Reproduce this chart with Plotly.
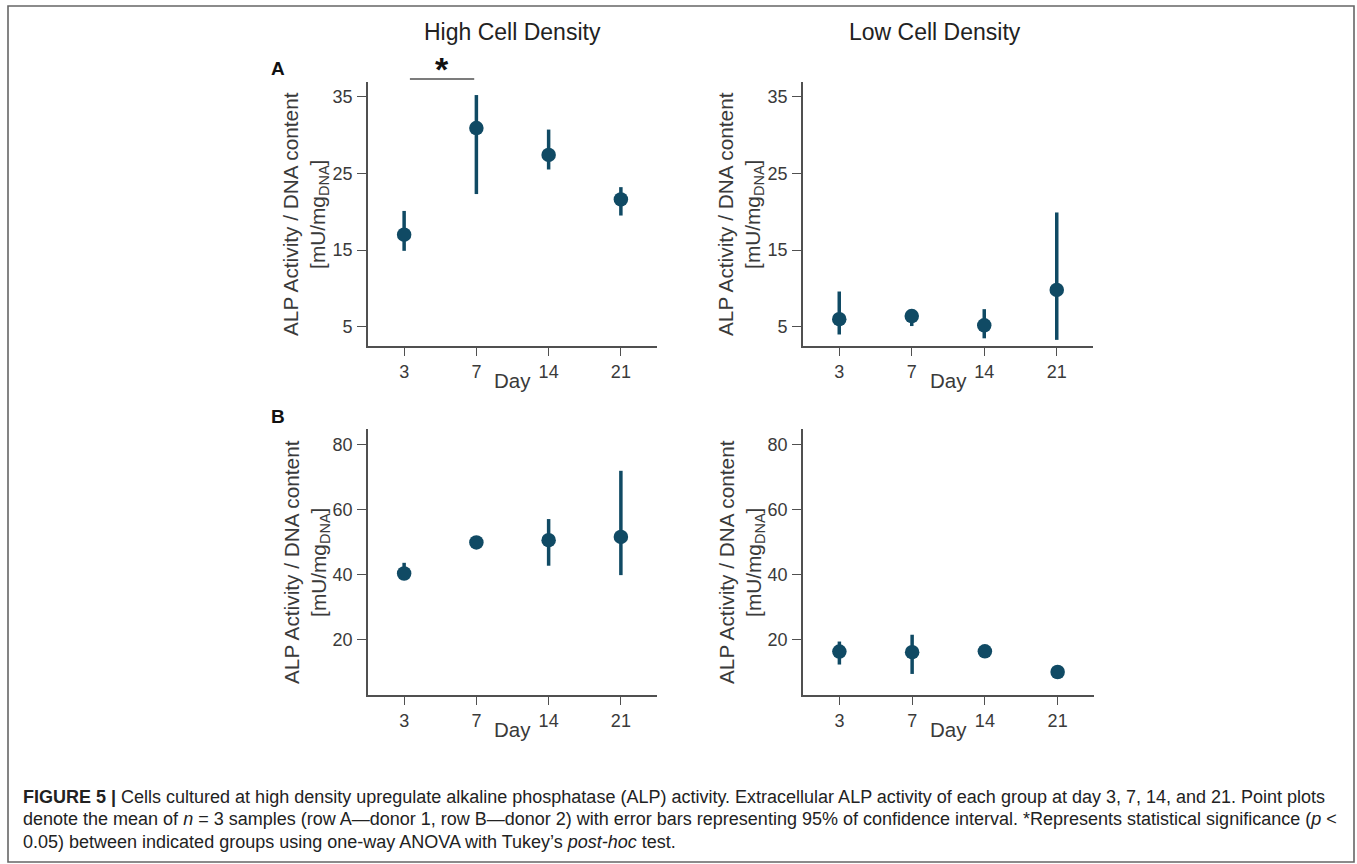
import plotly.graph_objects as go

# ---------------- data ----------------
days = ["3", "7", "14", "21"]

# Row A (donor 1)
a_high_mean = [17.0, 30.9, 27.4, 21.6]
a_high_low = [14.9, 22.3, 25.5, 19.5]
a_high_up = [20.1, 35.2, 30.7, 23.2]

a_low_mean = [6.0, 6.4, 5.2, 9.8]
a_low_low = [4.0, 5.1, 3.5, 3.3]
a_low_up = [9.6, 6.9, 7.3, 19.9]

# Row B (donor 2)
b_high_mean = [40.3, 49.9, 50.6, 51.6]
b_high_low = [38.8, 49.2, 42.7, 39.8]
b_high_up = [43.6, 50.7, 57.1, 72.0]

b_low_mean = [16.2, 16.0, 16.3, 9.9]
b_low_low = [12.2, 9.3, 15.6, 9.4]
b_low_up = [19.3, 21.4, 17.0, 10.4]

col_titles = ["High Cell Density", "Low Cell Density"]
row_labels = ["A", "B"]
a_yticks = [5, 15, 25, 35]
b_yticks = [20, 40, 60, 80]

caption_lines = [
    "<b>FIGURE 5 |</b> Cells cultured at high density upregulate alkaline phosphatase (ALP) activity. "
    "Extracellular ALP activity of each group at day 3, 7, 14, and 21. Point plots",
    "denote the mean of <i>n</i> = 3 samples (row A\u2014donor 1, row B\u2014donor 2) with error bars "
    "representing 95% of confidence interval. *Represents statistical significance (<i>p</i> <",
    "0.05) between indicated groups using one-way ANOVA with Tukey\u2019s <i>post-hoc</i> test.",
]

# ---------------- layout helpers ----------------
W, H = 1357, 864


def px(v):
    return v / W


def py(v):
    return 1 - v / H


COLOR = "#104a64"
AXC = "#505050"
TXT = "#3a3a3a"
FONT = "Liberation Sans, Arial, sans-serif"
CAPFONT = "Liberation Sans, Arial, sans-serif"

panels = [
    (a_high_mean, a_high_low, a_high_up, (368, 657), (82, 346), [2.5, 36.9], a_yticks),
    (a_low_mean, a_low_low, a_low_up, (803, 1093), (82, 346), [2.5, 36.9], a_yticks),
    (b_high_mean, b_high_low, b_high_up, (368, 657), (429, 695), [2.8, 84.9], b_yticks),
    (b_low_mean, b_low_low, b_low_up, (803, 1094), (429, 695), [2.8, 84.9], b_yticks),
]

fig = go.Figure()
layout = {}
annotations = []
shapes = []

for i, (m, lo, up, xd, yd, yr, yt) in enumerate(panels):
    n = "" if i == 0 else str(i + 1)
    fig.add_trace(
        go.Scatter(
            x=days,
            y=m,
            mode="markers",
            marker=dict(color=COLOR, size=14.5),
            error_y=dict(
                type="data",
                symmetric=False,
                array=[u - v for u, v in zip(up, m)],
                arrayminus=[v - l for v, l in zip(m, lo)],
                thickness=3.5,
                width=0,
                color=COLOR,
            ),
            xaxis="x" + n,
            yaxis="y" + n,
            showlegend=False,
            hoverinfo="skip",
        )
    )
    layout["xaxis" + n] = dict(
        domain=[px(xd[0]), px(xd[1])],
        anchor="y" + n,
        type="category",
        categoryorder="array",
        categoryarray=days,
        range=[-0.5, 3.5],
        showline=True,
        linecolor=AXC,
        linewidth=1.6,
        ticks="outside",
        ticklen=8,
        tickwidth=1.4,
        tickcolor=AXC,
        ticklabelstandoff=1,
        showgrid=False,
        zeroline=False,
        tickfont=dict(size=18, color=TXT, family=FONT),
    )
    layout["yaxis" + n] = dict(
        domain=[py(yd[1]), py(yd[0])],
        anchor="x" + n,
        range=yr,
        tickvals=yt,
        showline=True,
        linecolor=AXC,
        linewidth=1.6,
        ticks="outside",
        ticklen=9,
        tickwidth=1.4,
        tickcolor=AXC,
        ticklabelstandoff=1,
        showgrid=False,
        zeroline=False,
        tickfont=dict(size=18, color=TXT, family=FONT),
    )
    # y-axis title (two lines)
    annotations.append(
        dict(
            text="ALP Activity / DNA content<br>[mU/mg<sub>DNA</sub>]",
            xref="paper",
            yref="paper",
            x=px(xd[0] - 62),
            y=py((yd[0] + yd[1]) / 2),
            xanchor="center",
            yanchor="middle",
            textangle=-90,
            showarrow=False,
            font=dict(size=20.8, color=TXT, family=FONT),
        )
    )
    # x-axis title
    annotations.append(
        dict(
            text="Day",
            xref="paper",
            yref="paper",
            x=px((xd[0] + xd[1]) / 2),
            y=py(yd[1] + 34),
            xanchor="center",
            yanchor="middle",
            showarrow=False,
            font=dict(size=20.5, color=TXT, family=FONT),
        )
    )

# column titles
for t, cx in zip(col_titles, [512, 935]):
    annotations.append(
        dict(
            text=t,
            xref="paper",
            yref="paper",
            x=px(cx),
            y=py(32),
            xanchor="center",
            yanchor="middle",
            showarrow=False,
            font=dict(size=23, color="#222222", family=FONT),
        )
    )

# row labels
for lab, yy in zip(row_labels, [68, 417]):
    annotations.append(
        dict(
            text="<b>%s</b>" % lab,
            xref="paper",
            yref="paper",
            x=px(278),
            y=py(yy),
            xanchor="center",
            yanchor="middle",
            showarrow=False,
            font=dict(size=19, color="#111111", family=FONT),
        )
    )

# significance bar between day 3 and day 7 (row A, high density)
shapes.append(
    dict(
        type="line",
        xref="x",
        yref="paper",
        x0=0.08,
        x1=0.97,
        y0=py(79),
        y1=py(79),
        line=dict(color=AXC, width=1.6),
    )
)
annotations.append(
    dict(
        text="<b>*</b>",
        xref="x",
        yref="paper",
        x=0.52,
        y=py(90),
        xanchor="center",
        yanchor="bottom",
        showarrow=False,
        font=dict(size=34, color="#111111", family=FONT),
    )
)

# caption
for line, yy in zip(caption_lines, [797, 819, 842]):
    annotations.append(
        dict(
            text=line,
            xref="paper",
            yref="paper",
            x=px(21),
            y=py(yy),
            xanchor="left",
            yanchor="middle",
            align="left",
            showarrow=False,
            font=dict(size=18.0, color="#222222", family=CAPFONT),
        )
    )

# outer frame
shapes.append(
    dict(
        type="rect",
        xref="paper",
        yref="paper",
        x0=px(8),
        x1=px(1354),
        y0=py(862),
        y1=py(6),
        line=dict(color="#666666", width=1.6),
        fillcolor="rgba(0,0,0,0)",
    )
)

fig.update_layout(
    **layout,
    annotations=annotations,
    shapes=shapes,
    width=W,
    height=H,
    margin=dict(l=0, r=0, t=0, b=0),
    paper_bgcolor="white",
    plot_bgcolor="white",
    font=dict(family=FONT, color=TXT),
)

fig.write_html(
    "out.html",
    config={"displayModeBar": False},
    post_script="document.body.style.margin='0';document.body.style.overflow='hidden';",
)
